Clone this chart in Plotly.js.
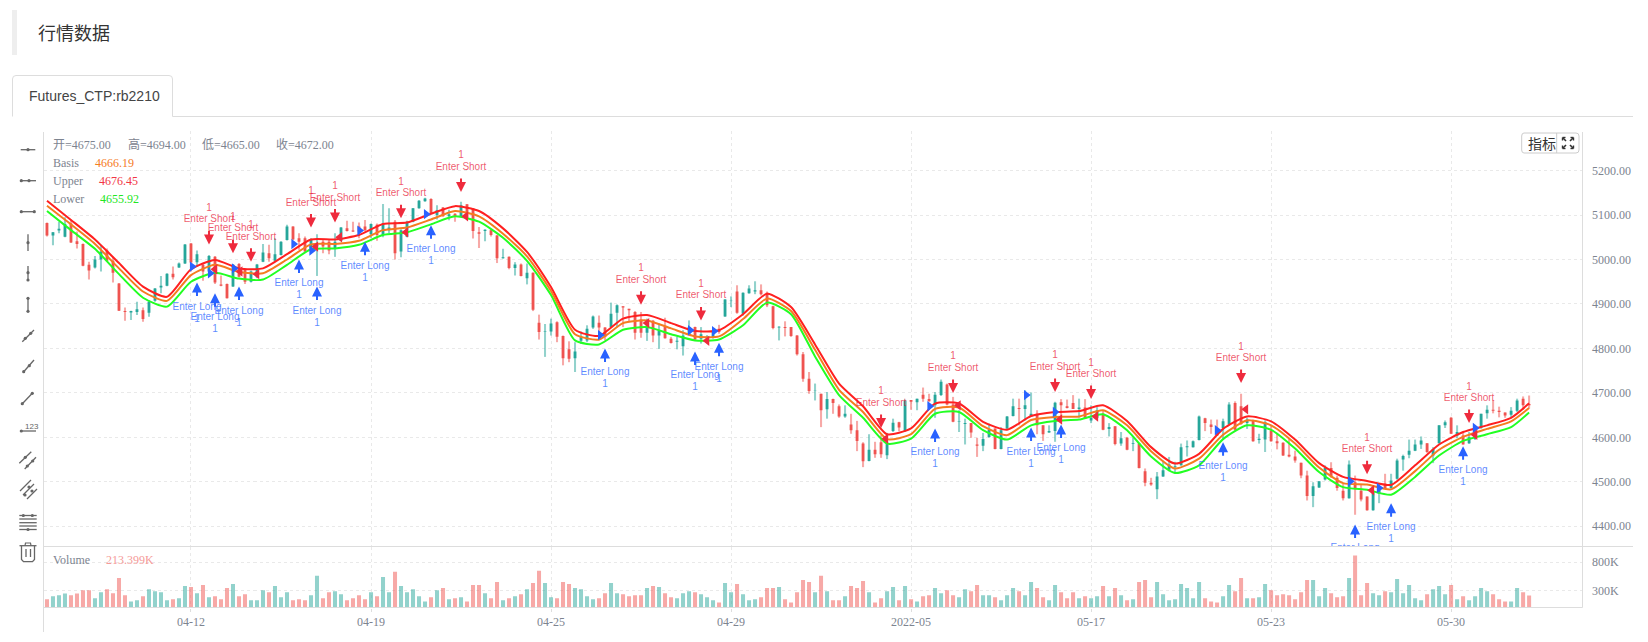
<!DOCTYPE html>
<html>
<head>
<meta charset="utf-8">
<script src="https://cdn.plot.ly/plotly-3.0.1.min.js"></script>
<style>
  body { margin: 0; background: #fff; }
</style>
</head>
<body>
<div id="chart" style="width:1648px;height:642px;"></div>
<script>
// Candles
const opens = [
  5082,5054,5065,5051,5081,5041,5035,4988,4982,5000,
  5020,4997,4946,4884,4881,4882,4886,4880,4907,4937,
  4941,4968,4982,4991,5036,4994,4988,4973,5006,4944,
  4945,4939,4990,4978,4950,4960,4995,5014,4997,5010,
  5044,5074,5048,5048,5025,5029,5040,5040,5025,5042,
  5070,5065,5074,5074,5057,5078,5055,5066,5085,5018,
  5051,5085,5115,5131,5136,5100,5117,5097,5103,5096,
  5124,5115,5061,5064,5066,5054,5003,5006,4981,4989,
  4958,4970,4858,4837,4838,4859,4828,4798,4778,4817,
  4818,4847,4858,4847,4848,4880,4895,4889,4882,4865,
  4835,4862,4829,4850,4822,4815,4805,4832,4848,4822,
  4820,4824,4844,4872,4907,4928,4878,4924,4928,4931,
  4925,4895,4847,4848,4848,4829,4787,4732,4704,4698,
  4663,4686,4670,4647,4629,4616,4586,4547,4572,4589,
  4560,4614,4634,4614,4684,4679,4696,4686,4672,4695,
  4719,4674,4635,4630,4632,4584,4581,4601,4620,4574,
  4620,4648,4666,4664,4647,4653,4627,4611,4614,4679,
  4670,4677,4664,4667,4638,4644,4653,4619,4625,4586,
  4599,4585,4586,4524,4498,4483,4512,4527,4533,4537,
  4578,4578,4594,4643,4629,4617,4621,4629,4677,4670,
  4632,4638,4594,4595,4615,4591,4588,4561,4557,4543,
  4514,4468,4487,4505,4531,4509,4480,4463,4499,4480,
  4467,4436,4473,4496,4486,4507,4550,4561,4570,4584,
  4587,4559,4587,4627,4644,4604,4604,4587,4596,4621,
  4654,4662,4660,4656,4651,4660,4687,4675
];
const highs = [
  5083,5062,5085,5095,5090,5063,5036,4995,5008,5033,
  5025,5006,4947,4892,4885,4905,4892,4909,4936,4963,
  4969,4984,4993,5035,5037,5020,4992,5010,5008,4964,
  4946,4990,4992,4980,4975,4990,5035,5033,5048,5041,
  5078,5075,5059,5052,5048,5057,5044,5044,5059,5073,
  5087,5085,5083,5089,5081,5081,5125,5115,5089,5068,
  5087,5116,5134,5139,5138,5122,5118,5112,5104,5130,
  5125,5116,5073,5068,5068,5055,5024,5007,4994,4991,
  4991,4971,4876,4855,4867,4861,4829,4816,4814,4838,
  4852,4874,4874,4848,4903,4899,4895,4889,4884,4882,
  4867,4864,4856,4869,4826,4826,4841,4863,4849,4848,
  4830,4844,4853,4911,4917,4942,4926,4942,4951,4944,
  4928,4896,4850,4861,4848,4830,4792,4747,4721,4698,
  4702,4687,4674,4672,4653,4637,4589,4607,4590,4605,
  4610,4642,4635,4685,4684,4687,4712,4698,4702,4730,
  4721,4691,4661,4642,4632,4599,4610,4631,4620,4623,
  4648,4687,4687,4706,4701,4661,4627,4627,4680,4686,
  4685,4695,4687,4686,4672,4668,4661,4632,4625,4612,
  4601,4599,4586,4530,4509,4522,4548,4556,4545,4586,
  4593,4593,4649,4644,4640,4640,4642,4679,4681,4698,
  4644,4640,4608,4638,4627,4608,4589,4597,4570,4543,
  4525,4499,4501,4537,4544,4514,4495,4548,4514,4495,
  4467,4481,4497,4518,4518,4552,4561,4595,4595,4602,
  4587,4578,4627,4638,4646,4627,4612,4612,4615,4653,
  4672,4683,4669,4656,4668,4687,4692,4694
];
const lows = [
  5052,5032,5059,5050,5037,5025,4985,4955,4980,4973,
  4995,4948,4884,4862,4864,4875,4860,4871,4905,4924,
  4940,4955,4981,4990,4973,4985,4952,4970,4945,4940,
  4912,4938,4960,4945,4948,4958,4994,4995,4996,5009,
  5043,5044,5022,5017,5020,4963,5014,5012,5006,5041,
  5063,5062,5048,5063,5048,5042,5050,5059,5000,5005,
  5050,5084,5114,5130,5102,5090,5096,5088,5085,5095,
  5093,5047,5026,5041,5052,4992,5002,4978,4964,4962,
  4944,4884,4820,4781,4829,4814,4762,4769,4747,4810,
  4814,4844,4818,4818,4847,4847,4848,4860,4820,4824,
  4817,4814,4799,4822,4811,4798,4784,4831,4818,4811,
  4815,4822,4833,4871,4893,4878,4874,4923,4922,4919,
  4893,4843,4818,4827,4826,4784,4725,4698,4683,4623,
  4642,4653,4644,4644,4608,4569,4533,4546,4554,4554,
  4551,4612,4614,4612,4662,4661,4680,4680,4644,4693,
  4672,4634,4612,4584,4599,4556,4569,4599,4573,4573,
  4619,4647,4627,4638,4646,4607,4592,4610,4590,4644,
  4665,4664,4644,4641,4632,4640,4616,4602,4582,4581,
  4571,4569,4530,4490,4491,4461,4511,4524,4518,4536,
  4557,4577,4593,4614,4608,4604,4597,4628,4615,4628,
  4619,4590,4586,4567,4590,4573,4558,4555,4543,4508,
  4458,4443,4486,4503,4509,4480,4458,4462,4426,4456,
  4435,4435,4452,4484,4484,4505,4525,4553,4569,4574,
  4565,4542,4586,4621,4608,4598,4584,4585,4594,4619,
  4642,4654,4645,4644,4644,4657,4662,4665
];
const closes = [
  5054,5061,5069,5080,5038,5035,4986,4975,5000,5018,
  4997,4970,4885,4882,4884,4888,4866,4905,4935,4941,
  4968,4960,4991,5034,4993,5012,4973,5008,4948,4941,
  4913,4988,4961,4950,4973,4989,5016,5003,5012,5040,
  5074,5045,5040,5018,5044,5033,5029,5020,5040,5072,
  5064,5063,5063,5066,5080,5055,5081,5072,5014,5066,
  5085,5115,5132,5137,5103,5111,5097,5102,5097,5122,
  5094,5064,5058,5067,5055,5003,5005,4981,4989,4963,
  4970,4887,4837,4838,4856,4826,4778,4777,4793,4826,
  4844,4872,4847,4826,4878,4897,4892,4886,4835,4835,
  4852,4829,4841,4823,4812,4817,4829,4848,4820,4832,
  4827,4837,4837,4910,4908,4880,4925,4935,4931,4922,
  4897,4846,4849,4846,4828,4787,4732,4704,4705,4661,
  4686,4677,4647,4653,4616,4592,4546,4572,4562,4562,
  4586,4633,4622,4683,4680,4687,4687,4681,4696,4725,
  4674,4635,4636,4632,4611,4581,4596,4617,4574,4616,
  4647,4670,4664,4672,4653,4627,4607,4614,4678,4672,
  4666,4664,4667,4642,4644,4661,4617,4623,4585,4598,
  4572,4587,4531,4498,4494,4512,4526,4539,4535,4578,
  4580,4591,4647,4632,4623,4604,4636,4674,4617,4630,
  4640,4591,4597,4634,4591,4587,4559,4557,4548,4514,
  4468,4490,4501,4531,4512,4486,4463,4539,4483,4460,
  4436,4477,4490,4486,4503,4548,4558,4570,4584,4593,
  4567,4574,4627,4634,4608,4612,4584,4600,4608,4653,
  4662,4660,4657,4649,4660,4683,4672,4672
];
// Volume, in thousands
const volumeK = [
  144,198,216,246,216,246,306,306,162,270,
  324,252,522,216,108,126,198,324,288,270,
  126,144,162,378,360,252,396,180,198,144,
  342,414,198,234,126,126,306,270,378,180,
  270,126,144,126,216,558,162,270,288,234,
  126,162,216,144,270,198,540,270,630,378,
  270,324,198,108,180,306,342,144,162,180,
  108,396,396,252,162,450,126,162,198,234,
  324,432,648,432,180,162,450,414,342,324,
  198,144,162,252,432,252,234,198,216,216,
  342,378,360,252,180,162,252,288,270,234,
  180,126,90,432,270,414,234,126,144,180,
  342,342,360,144,90,270,486,450,270,558,
  288,126,126,198,378,342,468,270,90,162,
  288,360,126,378,144,108,198,216,342,252,
  306,216,180,324,288,396,216,216,180,126,
  216,342,288,216,450,342,180,126,396,270,
  162,270,162,198,162,198,378,198,342,216,
  126,144,450,486,180,450,234,126,144,414,
  342,162,450,162,108,90,198,396,288,522,
  162,162,180,414,306,216,234,216,144,270,
  486,486,198,342,252,180,198,522,918,216,
  432,252,216,288,270,504,252,396,162,126,
  234,324,378,234,396,144,198,126,198,342,
  288,234,144,108,108,342,270,213.4
];

// Band lines, read every fourth bar
const bandIdx = [
  0,4,8,12,16,20,24,28,32,36,40,44,48,52,56,60,64,68,72,76,80,84,88,92,96,100,
  104,108,112,116,120,124,128,132,136,140,144,148,152,156,160,164,168,172,176,
  180,184,188,192,196,200,204,208,212,216,220,224,228,232,236,240,244,247
];
const upper = [
  5132,5089,5045,4992,4939,4916,4978,4999,4980,4980,5012,5045,5045,5055,5080,5083,
  5103,5120,5109,5070,5017,4938,4842,4828,4867,4875,4857,4839,4841,4877,4923,4893,
  4809,4721,4670,4607,4620,4676,4676,4635,4617,4648,4657,4659,4672,4637,4578,4541,
  4563,4619,4647,4636,4595,4542,4511,4502,4493,4537,4584,4612,4627,4644,4676.45
];
const basis = [
  5121,5079,5035,4980,4928,4907,4965,4988,4972,4969,5000,5034,5035,5042,5066,5072,
  5090,5109,5097,5058,5007,4929,4832,4820,4857,4863,4845,4827,4827,4866,4912,4884,
  4797,4707,4657,4596,4607,4664,4667,4625,4605,4639,4646,4647,4661,4627,4569,4530,
  4552,4606,4638,4627,4586,4532,4497,4494,4483,4524,4572,4601,4619,4636,4666.19
];
const lower = [
  5109,5066,5024,4967,4914,4894,4950,4970,4957,4955,4988,5023,5025,5033,5055,5061,
  5079,5097,5085,5049,4997,4920,4818,4809,4842,4848,4832,4818,4820,4852,4903,4877,
  4782,4695,4644,4586,4597,4653,4657,4616,4595,4627,4637,4640,4652,4616,4557,4520,
  4537,4596,4627,4617,4575,4522,4488,4482,4471,4511,4559,4592,4607,4623,4655.92
];

// Strategy signals
const shortIdx = [27,31,34,44,48,59,69,99,109,139,151,168,174,199,220,237];
const shortTip = [5034,5014,4995,5072,5083,5093,5152,4898,4863,4621,4700,4702,4686,4722,4517,4632];
const longIdx = [25,28,32,42,45,53,64,93,108,112,148,164,169,196,218,224,236];
const longTip = [4948,4924,4939,5000,4939,5040,5077,4800,4793,4813,4620,4622,4629,4589,4404,4452,4580];
const blueMarkX = [24.2,27.2,31.2,41.1,44.1,52.1,63.2,92.2,107.2,111.2,147.1,163.2,168,195,217.2,222,238];
const blueMarkY = [4984,4969,4980,5035,5020,5065,5102,4830,4841,4839,4670,4695,4657,4616,4501,4486,4621];
const redMarkX = [28,32.2,35,44.8,48.8,59.8,69.8,100,110,139.8,151.9,168.8,174.8,199.8,220.8,238];
const redMarkY = [4978,4973,4967,5029,5050,5061,5097,4857,4817,4597,4672,4640,4647,4663,4481,4606];

// Axis ticks
const timeTickIdx = [24,54,84,114,144,174,204,234];
const timeTickText = ['04-12','04-19','04-25','04-29','2022-05','05-17','05-23','05-30'];
const priceTicks = [4400,4500,4600,4700,4800,4900,5000,5100,5200];
const volumeTicks = [300,800];
const volumeTickText = ['300K','800K'];

const idx = opens.map((v, i) => i);
const UP = '#26a69a', DOWN = '#ef5350';
const UP_SOFT = 'rgba(38,166,154,0.5)', DOWN_SOFT = 'rgba(239,83,80,0.5)';
const softColors = opens.map((o, i) => closes[i] >= o ? UP_SOFT : DOWN_SOFT);
const BLUE = '#2962ff', RED = '#ee2b3d';
const BLUE_TEXT = 'rgba(41,98,255,0.75)', RED_TEXT = 'rgba(233,30,60,0.75)';
const GREY = '#7d8490', FRAME = '#dddddd', ICON = '#666666';
const SERIF = '"Liberation Serif","Noto Sans CJK SC",serif';
const SANS = '"Liberation Sans",Arial,sans-serif';

// page pixels to paper fractions
const W = 1648, H = 642;
const fx = x => x / W;
const fy = y => 1 - y / H;

function line(x0, y0, x1, y1, color, width) {
  return { type: 'line', xref: 'paper', yref: 'paper', x0: fx(x0), y0: fy(y0), x1: fx(x1), y1: fy(y1),
    line: { color: color || ICON, width: width || 1.3 } };
}
function dot(x, y, r) {
  r = r || 1.6;
  return { type: 'circle', xref: 'paper', yref: 'paper', x0: fx(x - r), x1: fx(x + r), y0: fy(y - r), y1: fy(y + r),
    fillcolor: ICON, line: { width: 0 } };
}
function pathShape(points, color, width, fill) {
  const d = points.map(p => p[0] + fx(p[1]) + ' ' + fy(p[2])).join(' ');
  return { type: 'path', xref: 'paper', yref: 'paper', path: d, fillcolor: fill || 'rgba(0,0,0,0)',
    line: { color: color, width: width } };
}
function label(text, x, y, color, size, family) {
  return { text: text, xref: 'paper', yref: 'paper', x: fx(x), y: fy(y), xanchor: 'left', yanchor: 'middle',
    showarrow: false, borderpad: 0, font: { color: color, size: size || 12, family: family || SERIF } };
}

// drawing toolbar on the left
const toolbar = [
  line(20.7, 149.7, 35.3, 149.7), dot(28, 149.7),
  line(20, 180.7, 36, 180.7), dot(21.3, 180.7), dot(29, 180.7),
  line(21.3, 211.7, 34.3, 211.7), dot(21.3, 211.7), dot(34.3, 211.7),
  line(28, 234.3, 28, 251), dot(28, 242.7),
  line(28, 266, 28, 280), dot(28, 272.7), dot(28, 280),
  line(28, 298.3, 28, 311.3), dot(28, 298.3), dot(28, 311.3),
  line(22.3, 341.7, 34, 330), dot(25.3, 338.3), dot(30.7, 333.3),
  line(23.7, 371.7, 34, 360), dot(23.7, 371.7), dot(29.3, 365.7),
  line(22.3, 403.7, 32.3, 393.3), dot(22.3, 403.7), dot(32.3, 393.3),
  line(21.3, 431, 36, 431), dot(21.3, 431),
  line(19.3, 463.3, 31.3, 451.7), dot(25.3, 457.3),
  line(24.7, 469, 36, 457.3), dot(27.3, 466), dot(32.7, 461),
  line(20, 491, 31, 480), line(23, 495, 34, 484), line(27, 499, 37, 489),
  dot(29, 487), dot(25, 495), dot(32, 491),
  line(19.3, 515.5, 36.7, 515.5), line(19.3, 519, 36.7, 519), line(19.3, 522.7, 36.7, 522.7),
  line(19.3, 526, 36.7, 526), line(19.3, 529.5, 36.7, 529.5),
  dot(23.3, 515.5), dot(32.3, 515.5), dot(28, 529.5),
  line(19.5, 545.7, 36.5, 545.7),
  pathShape([['M', 25, 545.7], ['L', 25.5, 543], ['L', 30.5, 543], ['L', 31, 545.7]], ICON, 1.2),
  pathShape([['M', 21.5, 546], ['L', 21.5, 559.5], ['L', 23.5, 561.7], ['L', 32.5, 561.7], ['L', 34.5, 559.5], ['L', 34.5, 546]], ICON, 1.3),
  line(26, 549, 26, 557), line(30.5, 549, 30.5, 557)
];

// page furniture and chart frame
const frame = [
  { type: 'rect', xref: 'paper', yref: 'paper', x0: fx(12), x1: fx(17), y0: fy(10), y1: fy(55), fillcolor: '#eeeeee', line: { width: 0 } },
  pathShape([['M', 12.5, 116.5], ['L', 12.5, 79], ['Q', 12.5, 75.5], ['', 16, 75.5], ['L', 169, 75.5], ['Q', 172.5, 75.5], ['', 172.5, 79], ['L', 172.5, 116.5]], FRAME, 1),
  line(172.5, 116.5, 1633, 116.5, FRAME, 1),
  line(43.5, 132, 43.5, 632, FRAME, 1),
  line(1582.5, 132, 1582.5, 607.5, FRAME, 1),
  line(43.5, 546.5, 1633, 546.5, FRAME, 1),
  line(43.5, 607.5, 1582.5, 607.5, FRAME, 1),
  pathShape([['M', 1524, 133], ['L', 1576, 133], ['Q', 1579, 133], ['', 1579, 136], ['L', 1579, 150], ['Q', 1579, 153], ['', 1576, 153], ['L', 1524, 153], ['Q', 1521.7, 153], ['', 1521.7, 150], ['L', 1521.7, 136], ['Q', 1521.7, 133], ['', 1524, 133]], '#cccccc', 1, '#ffffff'),
  line(1556.7, 133, 1556.7, 153, '#cccccc', 1),
  // fullscreen icon
  line(1563, 138, 1566, 141, '#333333', 1.6), line(1573, 138, 1570, 141, '#333333', 1.6),
  line(1563, 148, 1566, 145, '#333333', 1.6), line(1573, 148, 1570, 145, '#333333', 1.6),
  line(1562.5, 137.5, 1565.5, 137.5, '#333333', 1.4), line(1562.5, 137.5, 1562.5, 140.5, '#333333', 1.4),
  line(1570.5, 137.5, 1573.5, 137.5, '#333333', 1.4), line(1573.5, 137.5, 1573.5, 140.5, '#333333', 1.4),
  line(1562.5, 148.5, 1565.5, 148.5, '#333333', 1.4), line(1562.5, 145.5, 1562.5, 148.5, '#333333', 1.4),
  line(1570.5, 148.5, 1573.5, 148.5, '#333333', 1.4), line(1573.5, 145.5, 1573.5, 148.5, '#333333', 1.4)
];

const texts = [
  label('行情数据', 37, 32.5, '#333333', 18, '"Noto Sans CJK SC",sans-serif'),
  label('Futures_CTP:rb2210', 28, 96, '#444444', 14, SANS),
  label('开=4675.00', 52, 145, GREY),
  label('高=4694.00', 127, 145, GREY),
  label('低=4665.00', 200.5, 145, GREY),
  label('收=4672.00', 274.5, 145, GREY),
  label('Basis', 52, 163, GREY),
  label('4666.19', 94, 163, '#f57c1f'),
  label('Upper', 52, 181, GREY),
  label('4676.45', 98, 181, '#f23645'),
  label('Lower', 52, 199, GREY),
  label('4655.92', 99, 199, '#22e622'),
  label('Volume', 52, 560, GREY),
  label('213.399K', 105, 560, '#f59a98'),
  label('123', 23.5, 426.5, ICON, 8, SANS),
  label('指标', 1527, 143, '#333333', 14, '"Noto Sans CJK SC",sans-serif')
];

// signal arrows, tip on the price, tail a fixed pixel length away
const arrows = [];
shortIdx.forEach((x, i) => arrows.push({ x: x, y: shortTip[i], xref: 'x', yref: 'y', text: '', showarrow: true,
  ax: 0, ay: -15, arrowhead: 2, arrowsize: 1, arrowwidth: 2, arrowcolor: RED, standoff: 0, startstandoff: 0 }));
longIdx.forEach((x, i) => arrows.push({ x: x, y: longTip[i], xref: 'x', yref: 'y', text: '', showarrow: true,
  ax: 0, ay: 15, arrowhead: 2, arrowsize: 1, arrowwidth: 2, arrowcolor: BLUE, standoff: 0, startstandoff: 0 }));

function signalText(xs, ys, text, color) {
  return { x: xs, y: ys, text: xs.map(() => text), mode: 'text', type: 'scatter', yaxis: 'y',
    textposition: 'middle center', textfont: { color: color, size: 10, family: SANS }, hoverinfo: 'skip', showlegend: false };
}
function bandLine(values, color) {
  return { x: bandIdx, y: values, type: 'scatter', mode: 'lines', yaxis: 'y',
    line: { color: color, width: 2, shape: 'spline', smoothing: 0.6 }, hoverinfo: 'skip', showlegend: false };
}
function triangles(xs, ys, symbol, color) {
  return { x: xs, y: ys, type: 'scatter', mode: 'markers', yaxis: 'y',
    marker: { symbol: symbol, size: 9, color: color, line: { width: 0 } }, hoverinfo: 'skip', showlegend: false };
}

const traces = [
  // volume pane
  { x: idx, y: volumeK, type: 'bar', yaxis: 'y2', marker: { color: softColors, line: { width: 0 } }, hoverinfo: 'skip', showlegend: false },
  // wicks sit under the bodies in a lighter tone
  { x: idx, y: highs.map((h, i) => h - lows[i]), base: lows, type: 'bar', yaxis: 'y', width: 0.34,
    marker: { color: softColors, line: { width: 0 } }, hoverinfo: 'skip', showlegend: false },
  { x: idx, open: opens, high: highs, low: lows, close: closes, type: 'candlestick', yaxis: 'y',
    increasing: { line: { color: UP, width: 0 }, fillcolor: UP },
    decreasing: { line: { color: DOWN, width: 0 }, fillcolor: DOWN },
    whiskerwidth: 0, hoverinfo: 'skip', showlegend: false },
  bandLine(lower, '#22ff22'),
  bandLine(basis, '#f57c1f'),
  bandLine(upper, '#ff2020'),
  triangles(blueMarkX, blueMarkY, 'triangle-right', BLUE),
  triangles(redMarkX, redMarkY, 'triangle-left', RED),
  signalText(shortIdx, shortTip.map(v => v + 55), 'Enter Short', RED_TEXT),
  signalText(shortIdx, shortTip.map(v => v + 81), '1', RED_TEXT),
  signalText(longIdx, longTip.map(v => v - 55), 'Enter Long', BLUE_TEXT),
  signalText(longIdx, longTip.map(v => v - 82), '1', BLUE_TEXT)
];

const tickFont = { color: GREY, size: 12, family: SERIF };
const gridCommon = { gridcolor: '#e9e9e9', griddash: '3px,3px', gridwidth: 1, zeroline: false, showline: false };

const layout = {
  width: W, height: H,
  margin: { l: 0, r: 0, t: 0, b: 0 },
  paper_bgcolor: '#ffffff', plot_bgcolor: '#ffffff',
  showlegend: false, barmode: 'overlay', bargap: 0.33, boxmode: 'overlay', boxgap: 0.33,
  dragmode: false, hovermode: false,
  xaxis: Object.assign({}, gridCommon, {
    domain: [fx(43.5), fx(1582.5)], range: [-0.58, 255.9], anchor: 'y2', type: 'linear',
    tickmode: 'array', tickvals: timeTickIdx, ticktext: timeTickText,
    ticks: 'outside', ticklen: 3, tickcolor: FRAME, tickfont: tickFont,
    rangeslider: { visible: false }
  }),
  yaxis: Object.assign({}, gridCommon, {
    domain: [fy(546.5), fy(131)], range: [4354.5, 5289], anchor: 'x', side: 'right', type: 'linear',
    tickmode: 'array', tickvals: priceTicks, tickformat: '.2f',
    ticks: 'outside', ticklen: 6, tickcolor: 'rgba(0,0,0,0)', tickfont: tickFont
  }),
  yaxis2: Object.assign({}, gridCommon, {
    domain: [fy(607.5), fy(546.5)], range: [0, 1076], anchor: 'x', side: 'right', type: 'linear',
    tickmode: 'array', tickvals: volumeTicks, ticktext: volumeTickText,
    ticks: 'outside', ticklen: 6, tickcolor: 'rgba(0,0,0,0)', tickfont: tickFont
  }),
  shapes: frame.concat(toolbar),
  annotations: arrows.concat(texts)
};

Plotly.newPlot('chart', traces, layout, { displayModeBar: false, responsive: false });
</script>
</body>
</html>
